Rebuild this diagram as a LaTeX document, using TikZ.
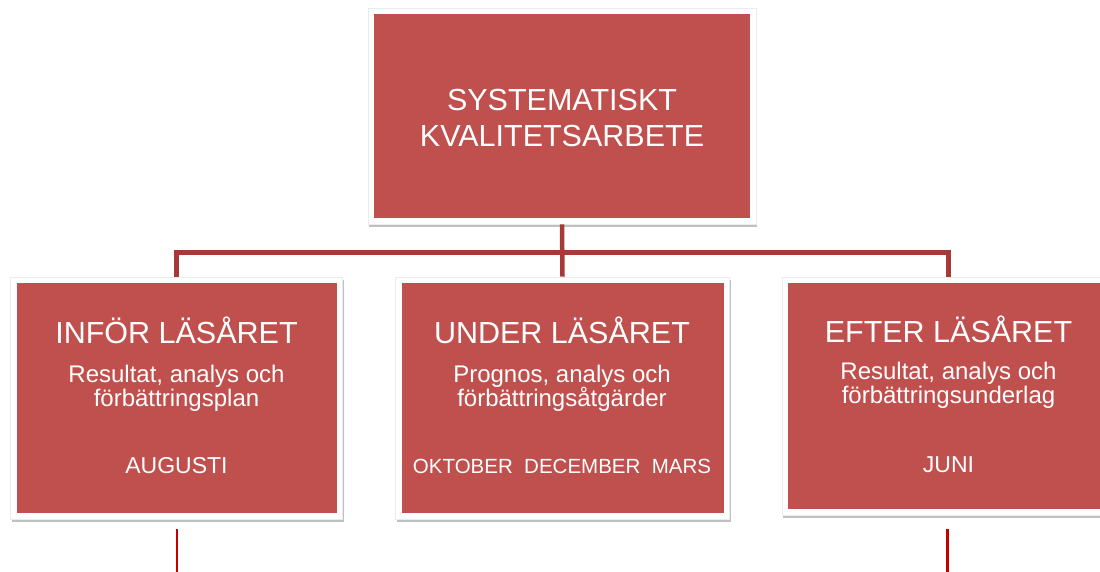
\documentclass[tikz,border=0pt]{standalone}
\usepackage{fontspec}
\setmainfont{Liberation Sans}
\usetikzlibrary{shadows}
\definecolor{boxred}{RGB}{192,80,77}
\definecolor{connred}{RGB}{165,58,56}
\definecolor{brightred}{RGB}{196,0,0}
\tikzset{
  box/.style={draw=black!8, line width=0.8pt, fill=white, inner sep=0pt,
    drop shadow={shadow xshift=1.2pt, shadow yshift=-3pt, opacity=0.35, fill=black!70},
    path picture={\fill[boxred]
      ([shift={(6pt,-6pt)}]path picture bounding box.north west) rectangle
      ([shift={(-6pt,6pt)}]path picture bounding box.south east);}},
  conn/.style={draw=connred, line width=4.5pt},
  tail/.style={draw=brightred, line width=2.6pt},
  ttl/.style={text=white, anchor=base, inner sep=0pt, font=\fontsize{30.5}{36}\selectfont},
  sub/.style={text=white, anchor=base, inner sep=0pt, font=\fontsize{24}{24}\selectfont},
  mon/.style={text=white, anchor=base, inner sep=0pt, font=\fontsize{23}{24}\selectfont},
}
\begin{document}
\begin{tikzpicture}[x=1pt,y=-1pt]
\useasboundingbox[fill=white] (0,0) rectangle (1100,571);
% boxes (white frame with red inner area)
\node[box, minimum width=388pt, minimum height=216pt] (top) at (562,116) {};
\node[box, minimum width=332pt, minimum height=242pt] (left) at (176.5,398) {};
\node[box, minimum width=334pt, minimum height=242pt] (mid) at (562.5,398) {};
\node[box, minimum width=333pt, minimum height=238pt] (right) at (948.5,396) {};
% connectors
\coordinate (bus) at (562.5,252.5);
\draw[conn] (left.north) |- (bus) -| (right.north);
\draw[conn] (top.south) -- (mid.north);
\coordinate (t1a) at (177,529);
\coordinate (t1b) at (177,575);
\coordinate (t2a) at (947.5,529);
\coordinate (t2b) at (947.5,575);
\draw[tail] (t1a) -- (t1b);
\draw[tail] (t2a) -- (t2b);
% texts
\node[ttl] (tA) at (562,110) {SYSTEMATISKT};
\node[ttl] (tB) at (562,146) {KVALITETSARBETE};
\node[ttl] (l1) at (176.5,343) {INFÖR LÄSÅRET};
\node[sub] (l2) at (176.5,382) {Resultat, analys och};
\node[sub] (l3) at (176.5,406) {förbättringsplan};
\node[mon] (l4) at (176.5,473) {AUGUSTI};
\node[ttl] (m1) at (562,343) {UNDER LÄSÅRET};
\node[sub] (m2) at (562,382) {Prognos, analys och};
\node[sub] (m3) at (562,406) {förbättringsåtgärder};
\node[mon, font=\fontsize{20.5}{24}\selectfont] (m4) at (562,473) {OKTOBER\ \ DECEMBER\ \ MARS};
\node[ttl] (r1) at (948.5,342) {EFTER LÄSÅRET};
\node[sub] (r2) at (948.5,379) {Resultat, analys och};
\node[sub] (r3) at (948.5,403) {förbättringsunderlag};
\node[mon] (r4) at (948.5,472) {JUNI};
\end{tikzpicture}
\end{document}
